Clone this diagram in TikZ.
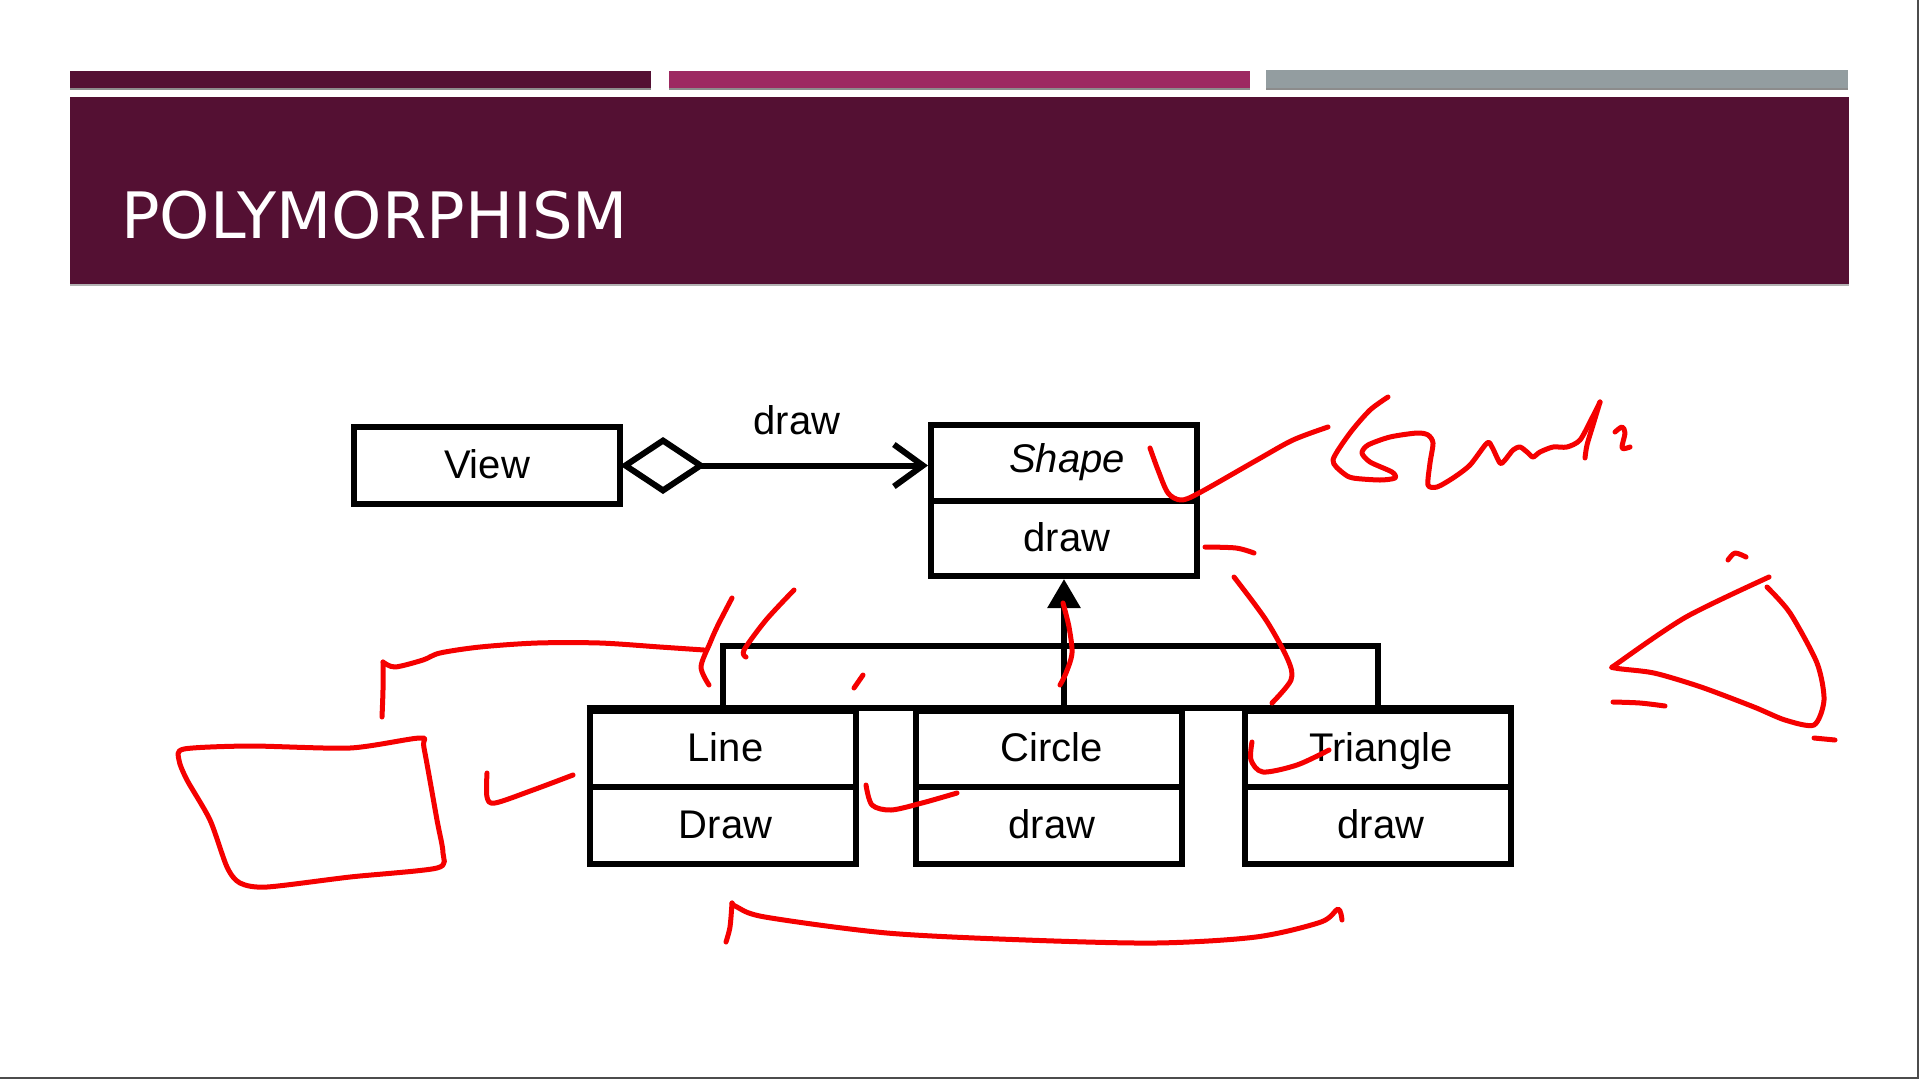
\documentclass[tikz,border=0pt]{standalone}
\usepackage{fontspec}
\setmainfont{Liberation Sans}
\newfontfamily\titlefont{DejaVu Sans}
\usetikzlibrary{arrows.meta}

\definecolor{plum}{RGB}{84,16,51}
\definecolor{berry}{RGB}{157,41,97}
\definecolor{slate}{RGB}{147,157,160}
\definecolor{pen}{RGB}{245,0,0}

% nudges a compartment label a little to the right of centre
\newcommand{\nudge}[1]{\hspace*{6pt}#1}

\begin{document}
\begin{tikzpicture}[x=1pt,y=-1pt,
  umlline/.style={line width=6pt, draw=black},
  box/.style={draw=black, line width=6pt, minimum width=266pt, inner sep=0pt,
    text height=29pt, text depth=4pt, font=\fontsize{40}{48}\selectfont},
  ink/.style={draw=pen, line width=5pt, line cap=round, line join=round},
]
\useasboundingbox (0,0) rectangle (1920,1080);
\fill[white] (0,0) rectangle (1920,1080);

% header strips and title banner
\fill[plum]  (70,71) rectangle (651,89);
\fill[berry] (669,71) rectangle (1250,89);
\fill[slate] (1266,70) rectangle (1848,89);
\fill[black!45] (70,88) rectangle (651,90);
\fill[black!45] (669,88) rectangle (1250,90);
\fill[black!45] (1266,88) rectangle (1848,90);
\fill[plum] (70,97) rectangle (1849,285);
\fill[black!30] (70,284) rectangle (1849,286);
\node[anchor=base west, inner sep=0pt, text=white,
      font=\titlefont\fontsize{64}{70}\selectfont] (title) at (121,238) {POLYMORPHISM};

% frame edge
\draw[line width=2pt, black!70] (1918,0) -- (1918,1078) -- (0,1078);

% classes
\node[box, minimum height=77pt] (view) at (487,465.5) {View};
\node[box, minimum height=76pt] (shapeTop) at (1064,463) {\nudge{\raisebox{3pt}{\itshape Shape}}};
\node[box, minimum height=75pt] (shapeBot) at (1064,538.5) {\nudge{draw}};

\node[box, minimum height=75.5pt] (lineTop) at (722.5,749) {\nudge{Line}};
\node[box, minimum height=77pt]   (lineBot) at (722.5,825.5) {\nudge{Draw}};
\node[box, minimum height=75.5pt] (circleTop) at (1049,749) {\nudge{Circle}};
\node[box, minimum height=77pt]   (circleBot) at (1049,825.5) {\nudge{draw}};
\node[box, minimum height=75.5pt] (triTop) at (1378,749) {\nudge{Triangle}};
\node[box, minimum height=77pt]   (triBot) at (1378,825.5) {\nudge{draw}};

% aggregation View -> Shape
\draw[umlline, shorten <=-3pt, {Diamond[open,length=86pt,width=57pt]}-{Straight Barb[length=29pt,width=42pt]}]
  (view.east) -- (view.east -| shapeTop.west)
  node[pos=0.57, yshift=46pt, inner sep=0pt, text height=29pt, text depth=0pt,
       font=\fontsize{40}{48}\selectfont] (assoc) {draw};

% generalization tree
\coordinate (barY) at (0,646);
\draw[umlline] (lineTop.north west) -- (triTop.north east);
\draw[umlline] (lineTop.north) -- (lineTop.north |- barY) -- (triTop.north |- barY) -- (triTop.north);
\draw[umlline, -{Triangle[length=29pt,width=32pt]}] (shapeBot.south |- lineTop.north) -- (shapeBot.south);

% handwritten marks
\draw[ink] plot[smooth, tension=0.5] coordinates {(382,717) (383,690) (383,662)};
\draw[ink] plot[smooth, tension=0.5] coordinates {(383,662) (395,667) (423,660) (440,653) (480,647) (537,643) (600,643) (660,647) (704,650)};
\draw[ink] plot[smooth cycle, tension=0.45] coordinates {(184,749) (250,746) (350,748) (420,738) (424,748) (437,820) (443,853) (437,868) (350,877) (267,887) (240,883) (227,867) (210,820) (187,780) (179,760)};
\draw[ink] plot[smooth, tension=0.5] coordinates {(487,773) (487,797) (495,803) (533,790) (573,775)};
\draw[ink] plot[smooth, tension=0.5] coordinates {(732,598) (718,625) (710,643) (701,667) (709,685)};
\draw[ink] plot[smooth, tension=0.5] coordinates {(794,590) (766,620) (744,650) (746,657)};
\draw[ink] (863,675) -- (854,688);
\draw[ink] plot[smooth, tension=0.5] coordinates {(1063,603) (1069,627) (1072,653) (1066,673) (1060,685)};
\draw[ink] plot[smooth, tension=0.5] coordinates {(1234,577) (1266,620) (1288,660) (1291,680) (1272,703)};
\draw[ink] plot[smooth, tension=0.5] coordinates {(1252,742) (1251,760) (1263,772) (1297,765) (1329,750)};
\draw[ink] plot[smooth, tension=0.5] coordinates {(866,785) (872,805) (891,810) (922,803) (957,793)};
\draw[ink] plot[smooth, tension=0.5] coordinates {(1150,448) (1158,470) (1168,493) (1181,500) (1199,493) (1257,460) (1293,440) (1328,427)};
\draw[ink] plot[smooth, tension=0.45] coordinates {(1388,397) (1370,410) (1350,433) (1333,460) (1343,473) (1353,478) (1380,480) (1395,478) (1392,472) (1370,462) (1362,453) (1368,445) (1390,437) (1417,433) (1428,435) (1433,443) (1430,463) (1428,485) (1437,487) (1453,478) (1470,465) (1487,443) (1492,447) (1500,463) (1505,460) (1513,450) (1520,447) (1527,452) (1533,457) (1540,452) (1553,447) (1567,447) (1580,440) (1592,418) (1600,402)};
\draw[ink] plot[smooth, tension=0.5] coordinates {(1600,402) (1593,425) (1587,445) (1585,458)};
\draw[ink] plot[smooth, tension=0.5] coordinates {(1615,432) (1622,427) (1625,433) (1622,448) (1630,447)};
\draw[ink] plot[smooth, tension=0.5] coordinates {(1205,547) (1236,548) (1254,553)};
\draw[ink] plot[smooth, tension=0.45] coordinates {(1769,577) (1686,617) (1618,663) (1615,668) (1654,673) (1701,687) (1754,707) (1785,720) (1814,725) (1824,700) (1817,663) (1790,613) (1767,587)};
\draw[ink] plot[smooth, tension=0.5] coordinates {(1728,560) (1735,553) (1746,557)};
\draw[ink] plot[smooth, tension=0.5] coordinates {(1613,702) (1640,703) (1665,706)};
\draw[ink] (1814,738) -- (1835,740);
\draw[ink] plot[smooth, tension=0.5] coordinates {(726,942) (730,927) (732,903)};
\draw[ink] plot[smooth, tension=0.5] coordinates {(732,903) (737,907) (765,917) (887,933) (1026,940) (1156,943) (1256,937) (1321,922) (1338,909) (1342,920)};
\end{tikzpicture}
\end{document}
